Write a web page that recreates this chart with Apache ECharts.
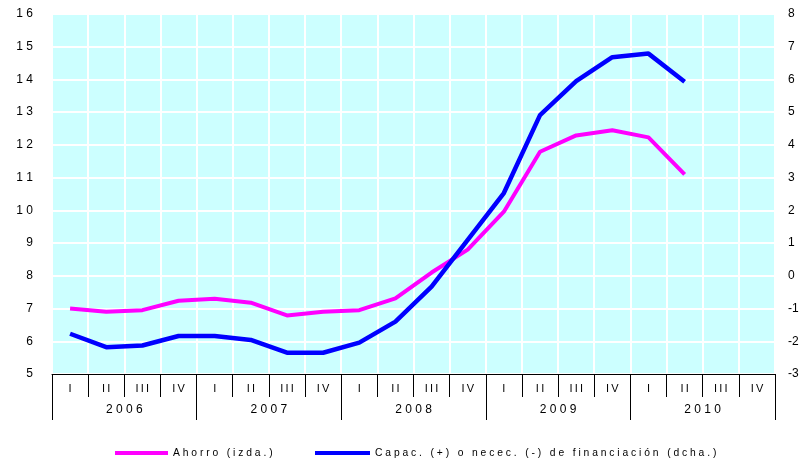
<!DOCTYPE html>
<html>
<head>
<meta charset="utf-8">
<script src="https://cdn.jsdelivr.net/npm/echarts@6/dist/echarts.min.js"></script>
<style>
html,body{margin:0;padding:0;background:#fff;}
#c{width:805px;height:461px;}
</style>
</head>
<body>
<div id="c"></div>
<script>
var quarters = ['I','II','III','IV','I','II','III','IV','I','II','III','IV','I','II','III','IV','I','II','III','IV'];
var years = ['2006','2007','2008','2009','2010'];
var ahorroName = 'Ahorro (izda.)';
var capacName = 'Capac. (+) o necec. (-) de financiación (dcha.)';
var ahorro = [7.0, 6.9, 6.95, 7.24, 7.3, 7.18, 6.79, 6.9, 6.95, 7.31, 8.1, 8.8, 9.96, 11.79, 12.29, 12.45, 12.23, 11.1, null, null];
var capac = [-1.77, -2.18, -2.13, -1.84, -1.84, -1.96, -2.35, -2.35, -2.04, -1.40, -0.33, 1.1, 2.53, 4.91, 5.95, 6.68, 6.79, 5.93, null, null];

var FONT = '"Liberation Sans", Arial, sans-serif';
function sp(s, sep){ return String(s).split('').join(sep || ' '); }
var thin = '\u2009';

var chart = echarts.init(document.getElementById('c'), null, {renderer:'canvas'});
chart.setOption({
  animation: false,
  backgroundColor: '#ffffff',
  textStyle: {fontFamily: FONT},
  grid: {left: 52, right: 30, top: 14, bottom: 87, show: true, backgroundColor: '#CCFFFF', borderWidth: 0},
  legend: [
    {data: [ahorroName], left: 115, top: 448, padding: 0, icon: 'rect', itemWidth: 53, itemHeight: 4, itemGap: 0,
     textStyle: {fontSize: 10.3, color: '#000', fontFamily: FONT},
     formatter: function(n){ return sp(n, ' '); }},
    {data: [capacName], left: 315, top: 448, padding: 0, icon: 'rect', itemWidth: 55, itemHeight: 4, itemGap: 0,
     textStyle: {fontSize: 10.3, color: '#000', fontFamily: FONT},
     formatter: function(n){ return sp(n, ' '); }}
  ],
  xAxis: [
    {type: 'category', data: quarters, boundaryGap: true, position: 'bottom',
     axisLine: {show: true, onZero: false, lineStyle: {color: '#000', width: 1}},
     axisTick: {show: true, interval: 0, length: 23, lineStyle: {color: '#000', width: 1}},
     axisLabel: {interval: 0, margin: 9, fontSize: 11, color: '#000', fontFamily: FONT,
       formatter: function(v){ return sp(v, thin); }},
     splitLine: {show: true, interval: 0, lineStyle: {color: '#ffffff', width: 2}}},
    {type: 'category', data: years, boundaryGap: true, position: 'bottom', offset: 0,
     axisLine: {show: false, onZero: false},
     axisTick: {show: true, interval: 0, length: 46, lineStyle: {color: '#000', width: 1}},
     axisLabel: {interval: 0, margin: 30, fontSize: 12, color: '#000', fontFamily: FONT,
       formatter: function(v){ return sp(v, ' '); }},
     splitLine: {show: false}}
  ],
  yAxis: [
    {type: 'value', min: 5, max: 16, interval: 1, position: 'left',
     axisLine: {show: false}, axisTick: {show: false},
     axisLabel: {margin: 19, fontSize: 12, color: '#000', fontFamily: FONT,
       formatter: function(v){ return sp(v, ' '); }},
     splitLine: {show: true, lineStyle: {color: '#ffffff', width: 2}}},
    {type: 'value', min: -3, max: 8, interval: 1, position: 'right',
     axisLine: {show: false}, axisTick: {show: false},
     axisLabel: {margin: 13, fontSize: 12, color: '#000', fontFamily: FONT},
     splitLine: {show: false}}
  ],
  series: [
    {name: ahorroName, type: 'line', xAxisIndex: 0, yAxisIndex: 0, data: ahorro,
     showSymbol: false, symbol: 'none', lineStyle: {color: '#FF00FF', width: 4}, itemStyle: {color: '#FF00FF'}},
    {name: capacName, type: 'line', xAxisIndex: 0, yAxisIndex: 1, data: capac,
     showSymbol: false, symbol: 'none', lineStyle: {color: '#0000FF', width: 4.5}, itemStyle: {color: '#0000FF'}}
  ]
});
</script>
</body>
</html>
